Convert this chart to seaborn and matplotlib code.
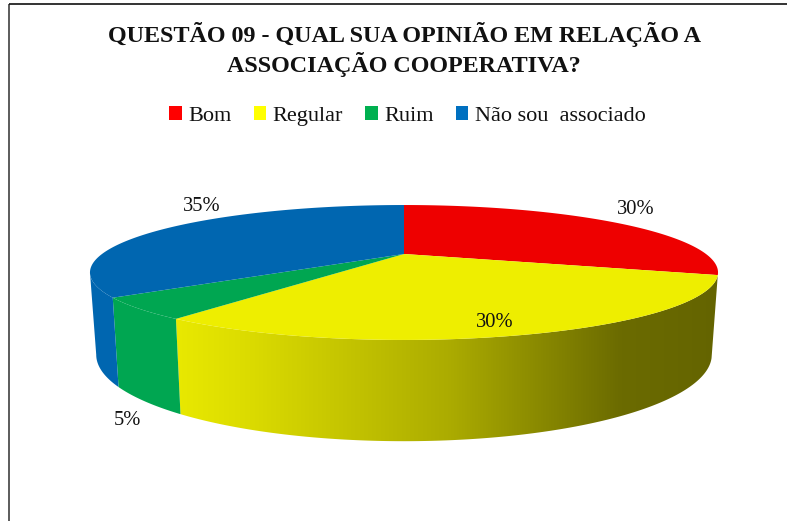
import numpy as np
import matplotlib
matplotlib.use("Agg")
import matplotlib.pyplot as plt
from matplotlib.patches import Patch, Polygon
import seaborn as sns

TITLE = "QUESTÃO 09 - QUAL SUA OPINIÃO EM RELAÇÃO A\nASSOCIAÇÃO COOPERATIVA?"
categories = ["Bom", "Regular", "Ruim", "Não sou  associado"]
values = [30, 30, 5, 35]
value_labels = ["30%", "30%", "5%", "35%"]

top_colors = ["#EE0000", "#EEEE00", "#00A651", "#0066B0"]
legend_colors = ["#FF0000", "#FFFF00", "#00B050", "#0070C0"]

# Perspective of the disc (pixel units of the figure)
CX, K = 404.0, 0.274
TOP_A, TOP_B, TOP_C = 302.0, 62.4, 254.0
BOT_A, BOT_B, BOT_C = 296.0, 80.0, 331.0
LABEL_OFFSETS = [(21, 13), (-35, 12), (-12, -112), (37, 22)]
SHADE_X = [175, 250, 350, 450, 550, 620, 720]
SHADE_V = [0.98, 0.92, 0.82, 0.72, 0.56, 0.45, 0.42]

sns.set_theme(style="white")
plt.rcParams["font.family"] = ["Liberation Serif", "DejaVu Serif"]
palette_top = sns.color_palette(top_colors)
palette_legend = sns.color_palette(legend_colors)

fig = plt.figure(figsize=(7.87, 5.21), dpi=100, facecolor="white")
ax = fig.add_axes([0, 0, 1, 1])
ax.axis("off")


def project(theta, a, b, c):
    u, v = np.sin(theta), np.cos(theta)
    w = 1 + K * v
    return CX + a * u / w, c - b * v / w


# frame of the chart
ax.plot([9, 9], [4, 521], color="#404040", lw=1.2, solid_capstyle="butt")
ax.plot([9, 787], [4, 4], color="#111111", lw=1.2, solid_capstyle="butt")

fractions = np.array(values, dtype=float) / sum(values)
edges = 2 * np.pi * np.concatenate([[0], np.cumsum(fractions)])
left_silhouette = 2 * np.pi - np.arccos(-K)

# side wall: one outline per visible slice; the largest front slice gets a shaded fill
for i in range(1, len(values)):
    start, stop = edges[i], min(edges[i + 1], left_silhouette)
    if stop <= start:
        continue
    th = np.linspace(start, stop, 200)
    xt, yt = project(th, TOP_A, TOP_B, TOP_C)
    xb, yb = project(th, BOT_A, BOT_B, BOT_C)
    outline = np.column_stack([np.r_[xt, xb[::-1]], np.r_[yt, yb[::-1]]])
    base = np.array(palette_top[i])
    if i == 1:
        poly = Polygon(outline, closed=True, facecolor="none", edgecolor="none")
        ax.add_patch(poly)
        xs = np.arange(170, 725)
        shade = np.interp(xs, SHADE_X, SHADE_V)
        grad = base[None, None, :] * shade[None, :, None]
        im = ax.imshow(grad, extent=(170, 725, 450, 260), aspect="auto",
                       interpolation="bilinear", zorder=1)
        im.set_clip_path(poly)
    else:
        ax.add_patch(Polygon(outline, closed=True, facecolor=tuple(base), edgecolor="none", zorder=1))

# top face
for i in range(len(values)):
    th = np.linspace(edges[i], edges[i + 1], 200)
    x, y = project(th, TOP_A, TOP_B, TOP_C)
    ax.fill(np.r_[CX, x], np.r_[TOP_C, y], facecolor=palette_top[i], edgecolor="none", zorder=2)

# value labels
for i, lab in enumerate(value_labels):
    mid = (edges[i] + edges[i + 1]) / 2
    px, py = project(mid, TOP_A, TOP_B, TOP_C)
    ax.annotate(lab, (px, py), xytext=LABEL_OFFSETS[i], textcoords="offset pixels",
                ha="center", va="center", fontsize=14.8, color="#111111", zorder=3)

ax.text(404, 49.5, TITLE, ha="center", va="center", fontsize=17.4, fontweight="bold",
        color="#111111", linespacing=1.22)

handles = [Patch(facecolor=c, edgecolor="none", label=l) for c, l in zip(palette_legend, categories)]
ax.legend(handles=handles, ncol=4, loc="center", bbox_to_anchor=(407.5 / 787, 1 - 116 / 521),
          frameon=False, fontsize=16, handlelength=0.55, handleheight=0.55, handletextpad=0.3,
          columnspacing=1.0, labelcolor="#111111", borderpad=0)

ax.set_xlim(0, 787)
ax.set_ylim(521, 0)
fig.savefig("out.png", dpi=100)
